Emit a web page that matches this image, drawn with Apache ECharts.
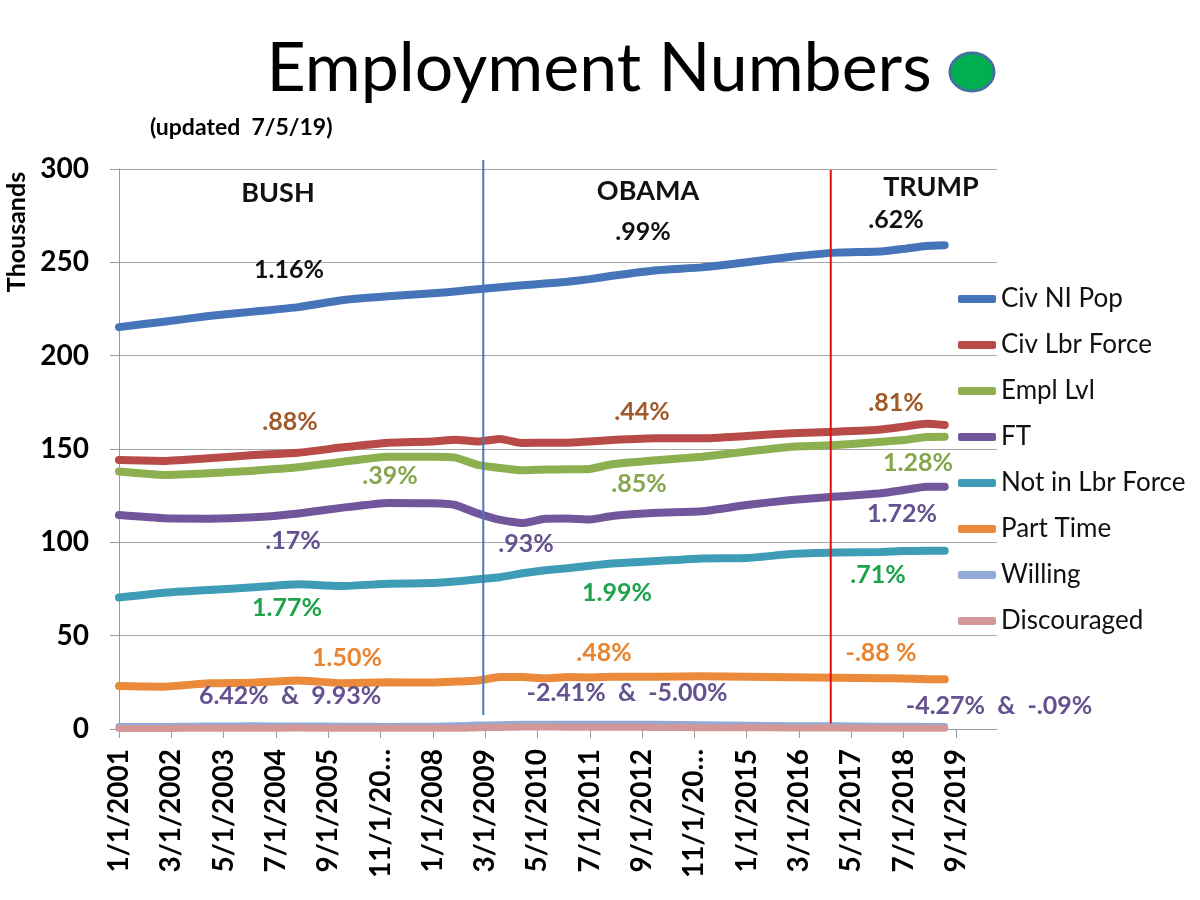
<!DOCTYPE html>
<html><head><meta charset="utf-8">
<script src="https://cdn.jsdelivr.net/npm/echarts@6/dist/echarts.min.js"></script>
<style>html,body{margin:0;padding:0;background:#fff}#c{width:1200px;height:900px}</style>
</head><body><div id="c"></div>
<script>
const monthIdx      = [0, 12, 24, 36, 48, 60, 72, 84, 90, 96, 102, 108, 114, 120, 126, 132, 144, 156, 168, 180, 192, 204, 210, 216, 221];
const civNiPop      = [215.3, 218.2, 221.2, 223.6, 226.0, 229.8, 231.8, 233.4, 234.4, 235.6, 236.6, 237.7, 238.6, 239.6, 241.0, 242.8, 245.8, 247.3, 250.0, 253.0, 255.2, 255.8, 257.2, 258.8, 259.2];
const civLbrForce   = [144.1, 143.6, 145.0, 146.8, 148.0, 150.9, 153.4, 154.0, 155.0, 154.0, 155.3, 153.2, 153.4, 153.4, 154.0, 154.8, 155.7, 155.7, 157.0, 158.4, 159.3, 160.5, 162.0, 163.5, 162.9];
const emplLvl       = [137.9, 136.1, 137.0, 138.4, 140.2, 143.2, 145.9, 145.9, 145.4, 141.5, 139.8, 138.6, 139.0, 139.1, 139.3, 141.8, 144.0, 145.9, 148.6, 151.2, 152.1, 153.9, 154.8, 156.4, 156.6];
const fullTime      = [114.6, 112.9, 112.7, 113.4, 115.5, 118.6, 121.1, 120.9, 120.0, 115.5, 112.0, 110.3, 112.6, 112.8, 112.2, 114.1, 115.8, 116.6, 120.0, 122.7, 124.5, 126.3, 128.0, 129.8, 129.8];
const notInLbrForce = [70.4, 73.0, 74.5, 75.9, 77.5, 76.6, 77.8, 78.2, 79.0, 80.2, 81.3, 83.4, 85.0, 86.1, 87.5, 88.7, 90.0, 91.4, 91.6, 93.7, 94.5, 94.8, 95.3, 95.5, 95.5];
const partTime      = [23.0, 22.7, 24.5, 24.8, 26.0, 24.5, 25.0, 24.9, 25.4, 26.0, 27.8, 27.8, 27.2, 27.8, 27.6, 28.0, 28.0, 28.2, 28.0, 27.7, 27.5, 27.2, 27.1, 26.7, 26.6];
const willing       = [1.3, 1.4, 1.6, 1.7, 1.6, 1.5, 1.4, 1.5, 1.7, 2.1, 2.3, 2.5, 2.6, 2.6, 2.6, 2.5, 2.5, 2.3, 2.0, 1.8, 1.7, 1.5, 1.5, 1.4, 1.4];
const discouraged   = [0.3, 0.3, 0.4, 0.4, 0.5, 0.4, 0.4, 0.4, 0.4, 0.7, 0.8, 1.1, 1.1, 1.0, 1.0, 1.0, 0.8, 0.7, 0.7, 0.6, 0.5, 0.4, 0.4, 0.4, 0.4];

const seriesNames = ['Civ NI Pop', 'Civ Lbr Force', 'Empl Lvl', 'FT', 'Not in Lbr Force', 'Part Time', 'Willing', 'Discouraged'];
const tickLabels = ['1/1/2001','3/1/2002','5/1/2003','7/1/2004','9/1/2005','11/1/20\u2026','1/1/2008','3/1/2009','5/1/2010','7/1/2011','9/1/2012','11/1/20\u2026','1/1/2015','3/1/2016','5/1/2017','7/1/2018','9/1/2019'];
const yTicks = [0, 50, 100, 150, 200, 250, 300];

// presidency boundaries (month index)
const obamaStart = 97.5;
const trumpStart = 190.5;

// annotation texts
const annotations = [
  {t:'BUSH', x:278, y:193, c:'#111111', s:27},
  {t:'OBAMA', x:648, y:191, c:'#111111', s:27},
  {t:'TRUMP', x:931, y:187, c:'#111111', s:27},
  {t:'1.16%', x:289, y:270, c:'#111111', s:25},
  {t:'.99%', x:643, y:232, c:'#111111', s:25},
  {t:'.62%', x:896, y:220, c:'#111111', s:25},
  {t:'.88%', x:290, y:422, c:'#A0592A', s:25},
  {t:'.44%', x:642, y:412, c:'#A0592A', s:25},
  {t:'.81%', x:896, y:403, c:'#A0592A', s:25},
  {t:'.39%', x:390, y:476, c:'#86A64C', s:25},
  {t:'.85%', x:639, y:484, c:'#86A64C', s:25},
  {t:'1.28%', x:918, y:463, c:'#86A64C', s:25},
  {t:'.17%', x:293, y:541, c:'#64518F', s:25},
  {t:'.93%', x:526, y:544, c:'#64518F', s:25},
  {t:'1.72%', x:902, y:514, c:'#64518F', s:25},
  {t:'1.77%', x:287, y:608, c:'#1EA24A', s:25},
  {t:'1.99%', x:617, y:593, c:'#1EA24A', s:25},
  {t:'.71%', x:878, y:575, c:'#1EA24A', s:25},
  {t:'1.50%', x:347, y:658, c:'#E8842F', s:25},
  {t:'.48%', x:604, y:653, c:'#E8842F', s:25},
  {t:'-.88 %', x:881, y:653, c:'#E8842F', s:25},
  {t:'6.42%  &  9.93%', x:290, y:696, c:'#64518F', s:25},
  {t:'-2.41%  &  -5.00%', x:627, y:693, c:'#64518F', s:25},
  {t:'-4.27%  &  -.09%', x:999, y:706, c:'#64518F', s:25}
];

const FONT = 'Lato, "Open Sans", "DejaVu Sans", sans-serif';
const seriesValues = [civNiPop, civLbrForce, emplLvl, fullTime, notInLbrForce, partTime, willing, discouraged];
const seriesColors = ['#4674B8', '#B84A47', '#8CB04F', '#72569C', '#3F9CB6', '#EA8A3A', '#93AAD6', '#D49797'];
const seriesWidths = [8, 8, 8, 8, 8, 8, 7, 7];

const chart = echarts.init(document.getElementById('c'), null, {renderer: 'canvas'});
const xTickVals = tickLabels.map((_, i) => i * 14);

chart.setOption({
  animation: false,
  backgroundColor: '#ffffff',
  grid: {left: 119, right: 203, top: 169, bottom: 171, containLabel: false},
  xAxis: {
    type: 'value', min: 0, max: 235, interval: 14,
    axisLine: {show: true, onZero: false, lineStyle: {color: '#9a9a9a', width: 1}},
    axisTick: {show: true, length: 9, inside: false, customValues: xTickVals, lineStyle: {color: '#9a9a9a'}},
    axisLabel: {
      customValues: xTickVals, rotate: 90, margin: 20, fontFamily: FONT, fontWeight: 'bold', fontSize: 28, color: '#000',
      formatter: v => tickLabels[Math.round(v / 14)]
    },
    splitLine: {show: false}
  },
  yAxis: {
    type: 'value', min: 0, max: 300, interval: 50,
    axisLine: {show: true, lineStyle: {color: '#9a9a9a', width: 1}},
    axisTick: {show: true, length: 9, lineStyle: {color: '#9a9a9a'}},
    axisLabel: {margin: 30, fontFamily: FONT, fontWeight: 'bold', fontSize: 28, color: '#000',
      formatter: v => String(yTicks[yTicks.indexOf(v)])},
    splitLine: {show: true, lineStyle: {color: '#a8a8a8', width: 1}}
  },
  legend: {
    orient: 'vertical', left: 953, top: 281, itemWidth: 38, itemHeight: 8, itemGap: 20,
    icon: 'roundRect',
    textStyle: {fontFamily: FONT, fontSize: 26, color: '#111', lineHeight: 26},
    data: seriesNames
  },
  series: seriesNames.map((name, k) => ({
    type: 'line', name: name,
    data: monthIdx.map((m, i) => [m, seriesValues[k][i]]),
    showSymbol: false, symbol: 'none', smooth: 0.15,
    lineStyle: {width: seriesWidths[k], color: seriesColors[k], cap: 'round', join: 'round'},
    itemStyle: {color: seriesColors[k]},
    z: 2 + k
  }))
});

const px = v => chart.convertToPixel({xAxisIndex: 0}, v);
const py = v => chart.convertToPixel({yAxisIndex: 0}, v);

const graphics = [];
// presidency separators
graphics.push({type: 'line', z: 20, shape: {x1: px(obamaStart), y1: py(304.8), x2: px(obamaStart), y2: py(7.5)}, style: {stroke: '#4A78C0', lineWidth: 2}});
graphics.push({type: 'line', z: 20, shape: {x1: px(trumpStart), y1: py(299.4), x2: px(trumpStart), y2: py(3)}, style: {stroke: '#E01010', lineWidth: 2}});
// title
graphics.push({type: 'text', z: 30, x: 599, y: 69, style: {text: 'Employment Numbers', fill: '#000', fontFamily: FONT, fontSize: 68, align: 'center', verticalAlign: 'middle'}});
graphics.push({type: 'ellipse', z: 30, shape: {cx: 972, cy: 72, rx: 22, ry: 19}, style: {fill: '#00B050', stroke: '#41719C', lineWidth: 3}});
graphics.push({type: 'text', z: 30, x: 150, y: 128, style: {text: '(updated  7/5/19)', fill: '#000', fontFamily: FONT, fontWeight: 'bold', fontSize: 23, align: 'left', verticalAlign: 'middle'}});
graphics.push({type: 'text', z: 30, x: 17, y: 232, rotation: Math.PI / 2, style: {text: 'Thousands', fill: '#000', fontFamily: FONT, fontWeight: 'bold', fontSize: 25, align: 'center', verticalAlign: 'middle'}});
annotations.forEach(a => graphics.push({
  type: 'text', z: 40, x: a.x, y: a.y,
  style: {text: a.t, fill: a.c, fontFamily: FONT, fontWeight: 'bold', fontSize: a.s, align: 'center', verticalAlign: 'middle'}
}));
chart.setOption({graphic: graphics});
</script>
</body></html>
